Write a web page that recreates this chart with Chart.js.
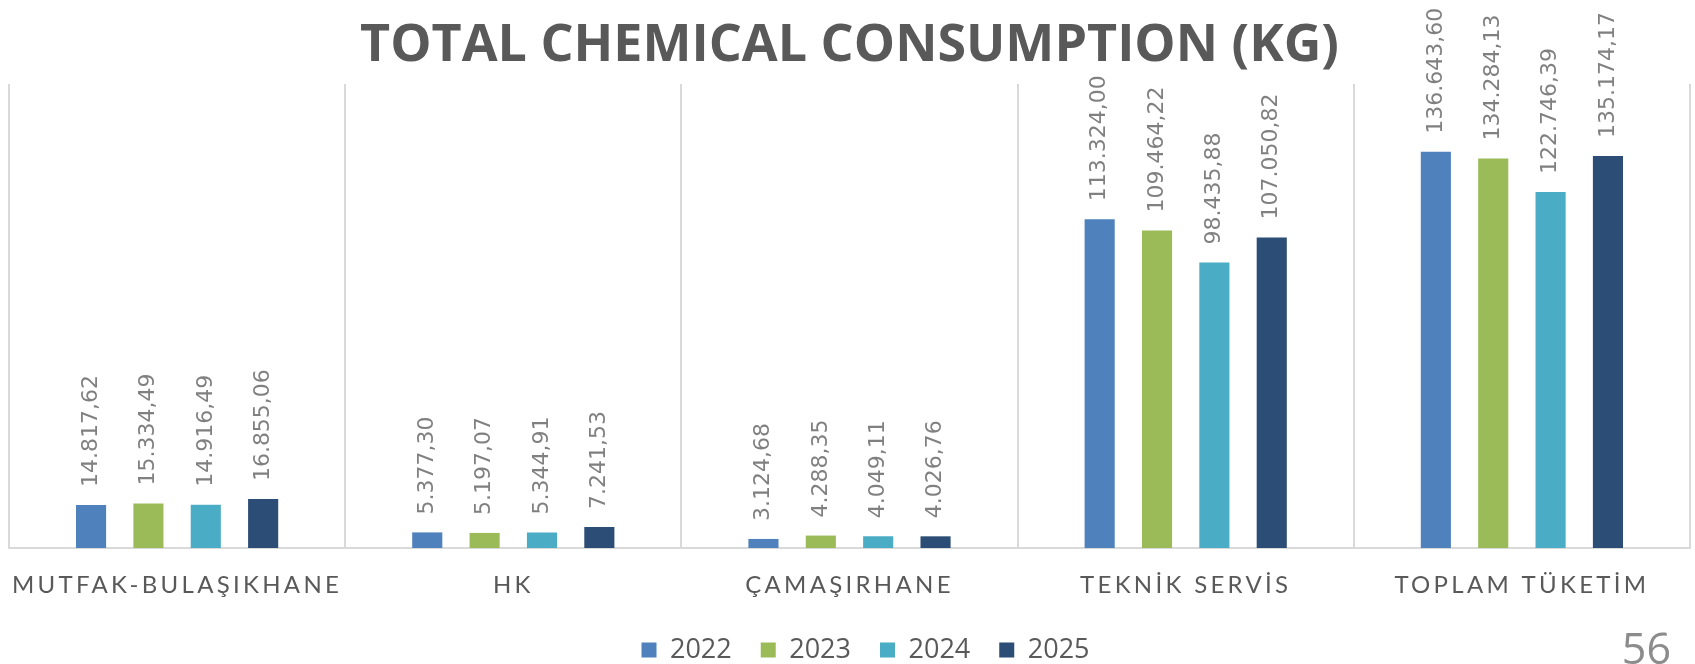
<!DOCTYPE html>
<html>
<head>
<meta charset="utf-8">
<script src="https://cdn.jsdelivr.net/npm/chart.js@4.4.1/dist/chart.umd.min.js"></script>
<style>
  html, body { margin: 0; padding: 0; background: #fff; }
  #wrap { width: 1695px; height: 664px; }
</style>
</head>
<body>
<div id="wrap"><canvas id="chart" width="1695" height="664"></canvas></div>
<script>
const categories = ['MUTFAK-BULAŞIKHANE', 'HK', 'ÇAMAŞIRHANE', 'TEKNİK SERVİS', 'TOPLAM TÜKETİM'];
const years = ['2022', '2023', '2024', '2025'];
const values2022 = [14817.62, 5377.30, 3124.68, 113324.00, 136643.60];
const values2023 = [15334.49, 5197.07, 4288.35, 109464.22, 134284.13];
const values2024 = [14916.49, 5344.91, 4049.11, 98435.88, 122746.39];
const values2025 = [16855.06, 7241.53, 4026.76, 107050.82, 135174.17];
const colors = ['#4F81BD', '#9BBB59', '#4BACC6', '#2C4D75'];
const pageNumber = '56';

// 136643.6 -> "136.643,60"
function fmt(v) {
    const parts = v.toFixed(2).split('.');
    return parts[0].replace(/\B(?=(\d{3})+(?!\d))/g, '.') + ',' + parts[1];
}

const valueLabels = {
    id: 'valueLabels',
    afterLayout(chart) {
        // legend sits a little right of centre and tucked under the axis labels
        const lg = chart.legend;
        lg.left += 16;
        lg.right += 16;
        lg.top -= 15.5;
        lg.bottom -= 15.5;
    },
    afterDatasetsDraw(chart) {
        const ctx = chart.ctx;
        ctx.save();
        ctx.font = '22px "DejaVu Sans"';
        ctx.fillStyle = '#808080';
        ctx.textAlign = 'left';
        ctx.textBaseline = 'middle';
        chart.data.datasets.forEach((ds, i) => {
            chart.getDatasetMeta(i).data.forEach((bar, j) => {
                ctx.save();
                ctx.translate(bar.x, bar.y - 18);
                ctx.rotate(-Math.PI / 2);
                ctx.fillText(fmt(ds.data[j]), 0, 0);
                ctx.restore();
            });
        });
        ctx.restore();
        // spaced-out category labels (x ticks are drawn after this, z: 1)
        ctx.letterSpacing = '3.3px';
    },
    afterDraw(chart) {
        const ctx = chart.ctx;
        ctx.letterSpacing = '0px';
        ctx.save();
        ctx.font = '43px "Open Sans"';
        ctx.fillStyle = '#8c8c8c';
        ctx.textAlign = 'right';
        ctx.textBaseline = 'alphabetic';
        ctx.fillText(pageNumber, 1671, 664);
        ctx.restore();
    }
};

const datasets = [values2022, values2023, values2024, values2025].map((vals, i) => ({
    label: years[i],
    data: vals,
    backgroundColor: colors[i],
    borderWidth: 0,
    categoryPercentage: 0.6825,
    barPercentage: 0.525
}));

new Chart(document.getElementById('chart'), {
    type: 'bar',
    data: { labels: categories, datasets: datasets },
    options: {
        responsive: false,
        animation: false,
        layout: { padding: { left: 9, right: 5, top: 0, bottom: -25 } },
        plugins: {
            title: {
                display: true,
                text: 'TOTAL CHEMICAL CONSUMPTION (KG)',
                color: '#595959',
                font: { family: '"Open Sans"', size: 52, weight: 'bold' },
                padding: { top: 15, bottom: 6.5 }
            },
            legend: {
                position: 'bottom',
                labels: {
                    color: '#595959',
                    font: { family: '"Open Sans"', size: 27 },
                    boxWidth: 15,
                    boxHeight: 15,
                    padding: 29
                }
            },
            tooltip: { enabled: false }
        },
        scales: {
            x: {
                grid: { color: '#d9d9d9', lineWidth: 2, drawTicks: false, offset: true },
                border: { color: '#d9d9d9', width: 2 },
                ticks: {
                    z: 1,
                    color: '#595959',
                    font: { family: 'Lato', size: 24, lineHeight: 0.5 },
                    padding: 31.5,
                    maxRotation: 0,
                    autoSkip: false
                }
            },
            y: {
                display: false,
                min: 0,
                max: 160000
            }
        }
    },
    plugins: [valueLabels]
});
</script>
</body>
</html>
